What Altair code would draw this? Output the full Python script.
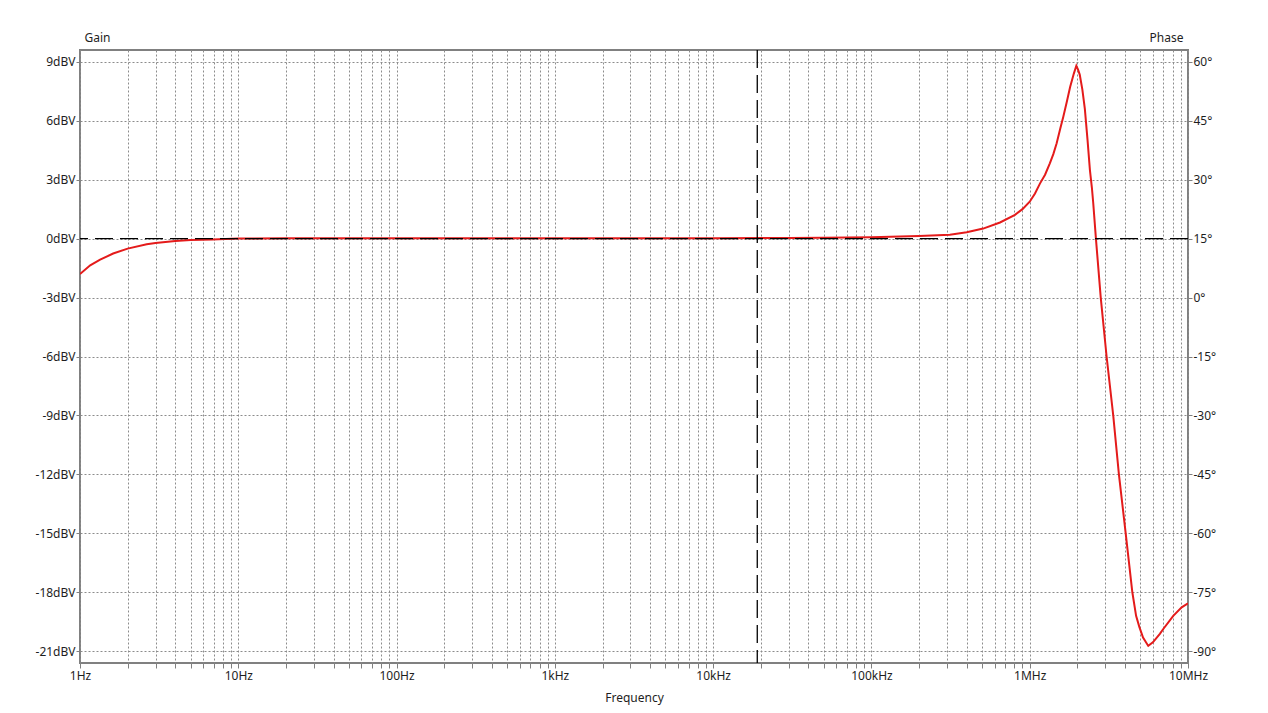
import altair as alt
import pandas as pd

# ---- data ----
freq_hz = [1, 1.16, 1.34, 1.62, 2.0, 2.64, 3.0, 4.0, 5.0, 6.9, 10, 20, 100, 1000, 10000,
           30000, 50000, 100000, 200000, 313000, 400000, 508000, 649000, 807000, 900000,
           1.0e6, 1.08e6, 1.16e6, 1.25e6, 1.34e6, 1.41e6, 1.48e6, 1.56e6, 1.63e6, 1.72e6,
           1.8e6, 1.9e6, 1.97e6, 2.02e6, 2.07e6, 2.15e6, 2.23e6, 2.32e6, 2.4e6, 2.47e6,
           2.52e6, 2.62e6, 2.81e6, 3.06e6, 3.37e6, 3.66e6, 4.04e6, 4.45e6, 4.7e6,
           4.92e6, 5.2e6, 5.61e6, 6.0e6, 6.64e6, 6.98e6, 8.07e6, 9.12e6, 1.0e7]
gain_dbv = [-1.80, -1.36, -1.07, -0.76, -0.51, -0.29, -0.22, -0.12, -0.07, -0.04, 0.0, 0.02,
            0.02, 0.02, 0.02, 0.03, 0.04, 0.07, 0.13, 0.20, 0.32, 0.51, 0.82, 1.21, 1.50,
            1.88, 2.30, 2.80, 3.25, 3.83, 4.30, 4.85, 5.60, 6.20, 7.00,
            7.72, 8.40, 8.80, 8.60, 8.35, 7.60, 6.60, 5.00, 3.50, 2.60,
            1.80, 0.0, -3.0, -6.0, -9.0, -12.0, -15.0, -18.0, -19.2,
            -19.75, -20.3, -20.73, -20.55, -20.12, -19.87, -19.2, -18.77, -18.56]

gain_ticks = [-21, -18, -15, -12, -9, -6, -3, 0, 3, 6, 9]
phase_ticks = [-90, -75, -60, -45, -30, -15, 0, 15, 30, 45, 60]
decade_vals = [1, 10, 100, 1000, 10000, 100000, 1000000, 10000000]
decade_labels = ["1Hz", "10Hz", "100Hz", "1kHz", "10kHz", "100kHz", "1MHz", "10MHz"]
cursor_freq = [19000]
cursor_gain = [0]

gain_domain = [-21.6, 9.6]
phase_domain = [-93, 63]

# x tick values: 1..9 per decade
x_vals = [d * 10 ** k for k in range(7) for d in range(1, 10)] + [10 ** 7]

label_expr = ""
for v, lab in zip(decade_vals, decade_labels):
    label_expr += f"abs(datum.value - {v}) < {v}*1e-6 ? '{lab}' : "
label_expr += "''"

FONT = "Noto Sans"
GRID = "#8c8c8c"
TXT = "#1e1e1e"

df = pd.DataFrame({"f": freq_hz, "g": gain_dbv})
cur_v = pd.DataFrame({"f": cursor_freq})
cur_h = pd.DataFrame({"g": cursor_gain})
ph = pd.DataFrame({"p": [phase_ticks[0], phase_ticks[-1]]})

xscale = alt.Scale(type="log", domain=[1, 1e7], nice=False)
xaxis = alt.Axis(values=x_vals, labelExpr=label_expr, labelOverlap=False, labelFlush=False,
                 grid=True, gridColor=GRID, gridDash=[2, 2], gridWidth=1,
                 tickColor="#808080", tickSize=5, labelPadding=2, domain=False,
                 title="Frequency", titleY=34, titleBaseline="middle",
                 titleFontWeight="normal", titleFontSize=12, titleFont=FONT, titleColor=TXT,
                 labelFont=FONT, labelFontSize=12, labelColor=TXT)
X = alt.X("f:Q", scale=xscale, axis=xaxis)

gscale = alt.Scale(domain=gain_domain, nice=False, zero=False)
gaxis = alt.Axis(values=gain_ticks, labelExpr="datum.value + 'dBV'", grid=True,
                 gridColor=GRID, gridDash=[2, 2], gridWidth=1, tickColor="#808080",
                 tickSize=4, labelPadding=1, domain=False, labelFlush=False,
                 title="Gain", titleAngle=0, titleAlign="left", titleX=4, titleY=-13,
                 titleBaseline="middle", titleFontWeight="normal", titleFontSize=12,
                 titleFont=FONT, titleColor=TXT,
                 labelFont=FONT, labelFontSize=12, labelColor=TXT)

line = alt.Chart(df).mark_line(color="#e41b1b", strokeWidth=2, clip=True).encode(
    x=X, y=alt.Y("g:Q", scale=gscale, axis=gaxis))

hrule = alt.Chart(cur_h).mark_rule(color="black", strokeWidth=1.3, strokeDash=[18, 7]).encode(
    y=alt.Y("g:Q", scale=gscale, axis=gaxis))

vrule = alt.Chart(cur_v).mark_rule(color="black", strokeWidth=1.3, strokeDash=[18, 7]).encode(
    x=X)

paxis = alt.Axis(values=phase_ticks, labelExpr="datum.value + '°'", orient="right",
                 grid=False, tickColor="#808080", tickSize=4, labelPadding=1, domain=False,
                 labelFlush=False,
                 title="Phase", titleAngle=0, titleAlign="right", titleX=-5, titleY=-13,
                 titleBaseline="middle", titleFontWeight="normal", titleFontSize=12,
                 titleFont=FONT, titleColor=TXT,
                 labelFont=FONT, labelFontSize=12, labelColor=TXT)
phase = alt.Chart(ph).mark_rule(opacity=0).encode(
    y=alt.Y("p:Q", scale=alt.Scale(domain=phase_domain, nice=False, zero=False), axis=paxis))

main = alt.layer(line, vrule, hrule)
chart = alt.layer(main, phase).resolve_scale(y="independent").properties(
    width=1108, height=613,
    autosize=alt.AutoSizeParams(type="none"),
    padding={"left": 72, "top": 42, "right": 72, "bottom": 42},
    background="white",
).configure_view(stroke="#808080", strokeWidth=2)

chart.save("out.html", embed_options={"renderer": "svg", "actions": False})
